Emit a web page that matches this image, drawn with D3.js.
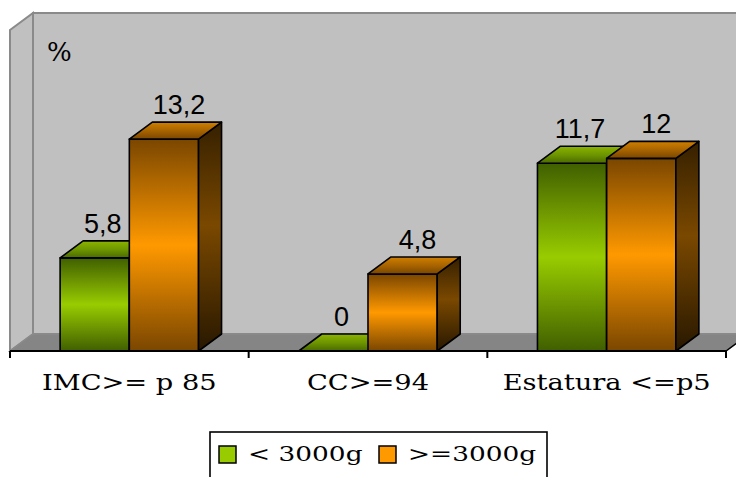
<!DOCTYPE html>
<html>
<head>
<meta charset="utf-8">
<script src="https://cdn.jsdelivr.net/npm/d3@7"></script>
<style>
  html, body { margin: 0; padding: 0; background: #fff; }
  svg { display: block; }
</style>
</head>
<body>
<div id="chart"></div>
<script>
// Chart data
const categories = ["IMC>= p 85", "CC>=94", "Estatura <=p5"];
const seriesNames = ["< 3000g", ">=3000g"];
const under3000 = [5.8, 0, 11.7];
const over3000 = [13.2, 4.8, 12];
const valueLabels = [["5,8", "0", "11,7"], ["13,2", "4,8", "12"]];
const yMax = 20;

const W = 736, H = 477;
const svg = d3.select("#chart").append("svg").attr("width", W).attr("height", H);
const defs = svg.append("defs");

// 3D depth offset of the plot box and columns
const depth = { dx: 23, dy: -17 };
// wide serif text is drawn with a horizontal stretch
const serif = "'DejaVu Serif', serif";
const stretch = 1.24;

const x = d3.scaleBand().domain(categories).range([10, 726]).padding(0);
const y = d3.scaleLinear().domain([0, yMax]).range([351, 30]);
const barW = x.bandwidth() * 0.29;

// Vertical "dark - light - dark" gradients for each face
function grad(id, c0, c1, c2, mid) {
  const g = defs.append("linearGradient").attr("id", id)
    .attr("x1", 0).attr("y1", 0).attr("x2", 0).attr("y2", 1);
  g.append("stop").attr("offset", 0).attr("stop-color", c0);
  g.append("stop").attr("offset", mid || 0.5).attr("stop-color", c1);
  g.append("stop").attr("offset", 1).attr("stop-color", c2);
}
grad("g-front", "#405f00", "#99cc00", "#405f00");
grad("g-side", "#1f3000", "#4a6800", "#1f3000", 0.45);
grad("g-top", "#8cb400", "#6e9600", "#4a6a00");
grad("o-front", "#7a4600", "#ff9900", "#7a4600");
grad("o-side", "#352000", "#7a4800", "#281800", 0.45);
grad("o-top", "#d08000", "#a86400", "#7a4600");

const palettes = [
  { front: "url(#g-front)", side: "url(#g-side)", top: "url(#g-top)", swatch: "#99cc00" },
  { front: "url(#o-front)", side: "url(#o-side)", top: "url(#o-top)", swatch: "#ff9900" }
];

// ---- walls and floor ----
const x0 = x.range()[0], x1 = x.range()[1];
const yTop = y(yMax), yBase = y(0);
const walls = svg.append("g");
// back wall
walls.append("rect")
  .attr("x", x0 + depth.dx).attr("y", yTop + depth.dy)
  .attr("width", x1 - x0 + 10).attr("height", yBase - yTop)
  .attr("fill", "#c0c0c0").attr("stroke", "#8a8a8a").attr("stroke-width", 2);
// side wall
walls.append("polygon")
  .attr("points", [[x0, yTop], [x0 + depth.dx, yTop + depth.dy], [x0 + depth.dx, yBase + depth.dy], [x0, yBase]].join(" "))
  .attr("fill", "#c0c0c0").attr("stroke", "#8a8a8a").attr("stroke-width", 2);
// floor
walls.append("polygon")
  .attr("points", [[x0, yBase], [x0 + depth.dx, yBase + depth.dy], [x1 + depth.dx, yBase + depth.dy], [x1, yBase]].join(" "))
  .attr("fill", "#858585").attr("stroke", "#8a8a8a").attr("stroke-width", 1.5);
// right edge of the floor
walls.append("line")
  .attr("x1", x1).attr("y1", yBase).attr("x2", x1 + depth.dx).attr("y2", yBase + depth.dy)
  .attr("stroke", "#000").attr("stroke-width", 1.5);

// ---- columns ----
const bars = svg.append("g").attr("stroke", "#000").attr("stroke-width", 1.6).attr("stroke-linejoin", "round");
const seriesData = [under3000, over3000];
const labels = svg.append("g")
  .attr("font-family", "'Liberation Sans', Arial, sans-serif")
  .attr("font-size", 27).attr("text-anchor", "middle").attr("fill", "#000");

categories.forEach((cat, ci) => {
  const cx = x(cat) + x.bandwidth() / 2;
  seriesData.forEach((vals, si) => {
    const v = vals[ci];
    const p = palettes[si];
    const left = cx - barW + si * barW, right = left + barW;
    const top = y(v), base = y(0);
    const g = bars.append("g");
    if (top < base) {
      g.append("rect").attr("x", left).attr("y", top).attr("width", barW).attr("height", base - top)
        .attr("fill", p.front);
      g.append("polygon")
        .attr("points", [[right, top], [right + depth.dx, top + depth.dy], [right + depth.dx, base + depth.dy], [right, base]].join(" "))
        .attr("fill", p.side);
    }
    g.append("polygon")
      .attr("points", [[left, top], [left + depth.dx, top + depth.dy], [right + depth.dx, top + depth.dy], [right, top]].join(" "))
      .attr("fill", p.top);
    labels.append("text")
      .attr("x", (left + right) / 2 + (si === 0 ? 8 : 15))
      .attr("y", top + depth.dy - 8)
      .text(valueLabels[si][ci]);
  });
});

// ---- category axis ----
const axis = d3.axisBottom(x).tickSize(0).tickPadding(0);
const axisG = svg.append("g").attr("transform", `translate(0,${yBase})`).call(axis);
axisG.select(".domain").remove();
axisG.selectAll("text")
  .attr("font-family", serif).attr("font-size", 22).attr("fill", "#000")
  .attr("dy", 0).attr("y", 0)
  .attr("transform", `translate(0,39) scale(${stretch},1)`);
svg.append("line").attr("x1", x0).attr("x2", x1).attr("y1", yBase).attr("y2", yBase)
  .attr("stroke", "#000").attr("stroke-width", 2);
const boundaries = categories.map(c => x(c)).concat([x1]);
svg.append("g").selectAll("line").data(boundaries).join("line")
  .attr("x1", d => d).attr("x2", d => d).attr("y1", yBase).attr("y2", yBase + 7)
  .attr("stroke", "#000").attr("stroke-width", 2);

// unit label
svg.append("text").attr("x", 47).attr("y", 61)
  .attr("font-family", serif).attr("font-size", 26).text("%");

// ---- legend ----
const legend = svg.append("g");
legend.append("rect").attr("x", 210).attr("y", 432).attr("width", 337).attr("height", 60)
  .attr("fill", "#fff").attr("stroke", "#000").attr("stroke-width", 1.6);
const legendX = [219, 379];
seriesNames.forEach((name, i) => {
  legend.append("rect").attr("x", legendX[i]).attr("y", 446).attr("width", 17).attr("height", 17)
    .attr("fill", palettes[i].swatch).attr("stroke", "#000").attr("stroke-width", 1.5);
  legend.append("text")
    .attr("transform", `translate(${legendX[i] + 29},461) scale(1.32,1)`)
    .attr("font-family", serif).attr("font-size", 20).text(name);
});
</script>
</body>
</html>
